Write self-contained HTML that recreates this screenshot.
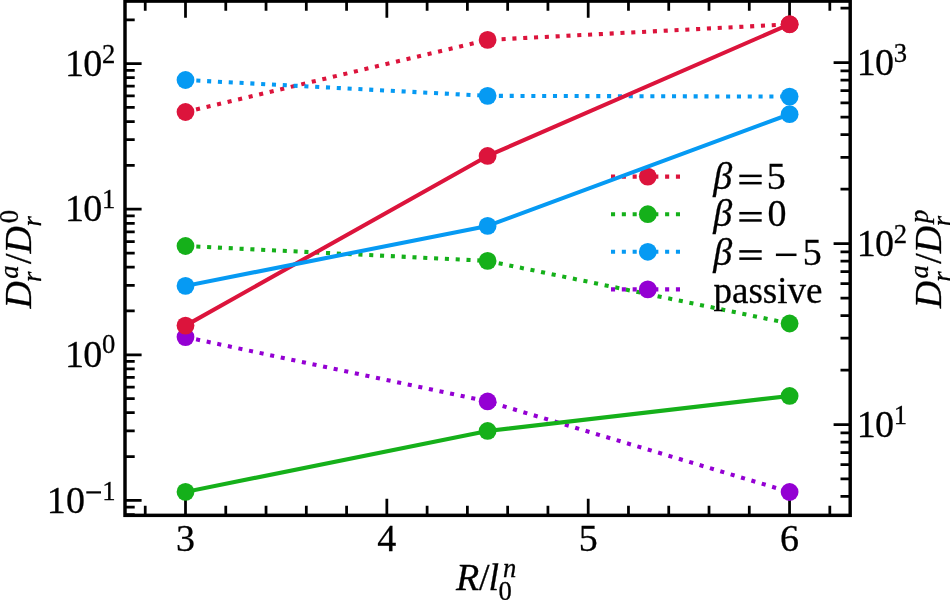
<!DOCTYPE html><html><head><meta charset="utf-8"><style>html,body{margin:0;padding:0;background:#fff;width:950px;height:600px;overflow:hidden}svg{display:block;will-change:transform}text{font-family:"Liberation Serif",serif;fill:#000;stroke:#000;stroke-width:0.3px}.i{font-style:italic}</style></head><body>
<svg width="950" height="600" viewBox="0 0 950 600">
<rect width="950" height="600" fill="#fff"/>
<defs><clipPath id="c"><rect x="125" y="1.1" width="725.2" height="514.25"/></clipPath></defs>
<path d="M185.5 515.35V498.75M185.5 1.1V17.7M386.85 515.35V498.75M386.85 1.1V17.7M588.2 515.35V498.75M588.2 1.1V17.7M789.55 515.35V498.75M789.55 1.1V17.7M125 500.4H141.6M125 354.8H141.6M125 209.2H141.6M125 63.6H141.6M850.2 424.5H833.6M850.2 243.6H833.6M850.2 62.7H833.6M145.23 515.35V505.65M145.23 1.1V10.8M225.77 515.35V505.65M225.77 1.1V10.8M266.04 515.35V505.65M266.04 1.1V10.8M306.31 515.35V505.65M306.31 1.1V10.8M346.58 515.35V505.65M346.58 1.1V10.8M427.12 515.35V505.65M427.12 1.1V10.8M467.39 515.35V505.65M467.39 1.1V10.8M507.66 515.35V505.65M507.66 1.1V10.8M547.93 515.35V505.65M547.93 1.1V10.8M628.47 515.35V505.65M628.47 1.1V10.8M668.74 515.35V505.65M668.74 1.1V10.8M709.01 515.35V505.65M709.01 1.1V10.8M749.28 515.35V505.65M749.28 1.1V10.8M829.82 515.35V505.65M829.82 1.1V10.8M125 514.51H134.7M125 507.06H134.7M125 456.57H134.7M125 430.93H134.7M125 412.74H134.7M125 398.63H134.7M125 387.1H134.7M125 377.35H134.7M125 368.91H134.7M125 361.46H134.7M125 310.97H134.7M125 285.33H134.7M125 267.14H134.7M125 253.03H134.7M125 241.5H134.7M125 231.75H134.7M125 223.31H134.7M125 215.86H134.7M125 165.37H134.7M125 139.73H134.7M125 121.54H134.7M125 107.43H134.7M125 95.9H134.7M125 86.15H134.7M125 77.71H134.7M125 70.26H134.7M125 19.77H134.7M850.2 496.49H840.5M850.2 478.96H840.5M850.2 464.63H840.5M850.2 452.52H840.5M850.2 442.03H840.5M850.2 432.78H840.5M850.2 370.04H840.5M850.2 338.19H840.5M850.2 315.59H840.5M850.2 298.06H840.5M850.2 283.73H840.5M850.2 271.62H840.5M850.2 261.13H840.5M850.2 251.88H840.5M850.2 189.14H840.5M850.2 157.29H840.5M850.2 134.69H840.5M850.2 117.16H840.5M850.2 102.83H840.5M850.2 90.72H840.5M850.2 80.23H840.5M850.2 70.98H840.5M850.2 8.24H840.5" stroke="#000" stroke-width="2.75" fill="none"/>
<g clip-path="url(#c)">
<polyline points="185.5,112 487.6,39.9 789.6,24.3" fill="none" stroke="#dc143c" stroke-width="4.08" stroke-dasharray="4.08 6.74"/>
<polyline points="185.5,246 487.6,260.9 789.6,323.5" fill="none" stroke="#15b01a" stroke-width="4.08" stroke-dasharray="4.08 6.74"/>
<polyline points="185.5,80 487.6,95.85 789.6,96.6" fill="none" stroke="#069af3" stroke-width="4.08" stroke-dasharray="4.08 6.74"/>
<polyline points="185.5,337.1 487.6,401.45 789.6,492" fill="none" stroke="#9400d3" stroke-width="4.08" stroke-dasharray="4.08 6.74"/>
<circle cx="185.5" cy="112" r="8.9" fill="#dc143c"/>
<circle cx="487.6" cy="39.9" r="8.9" fill="#dc143c"/>
<circle cx="789.6" cy="24.3" r="8.9" fill="#dc143c"/>
<circle cx="185.5" cy="246" r="8.9" fill="#15b01a"/>
<circle cx="487.6" cy="260.9" r="8.9" fill="#15b01a"/>
<circle cx="789.6" cy="323.5" r="8.9" fill="#15b01a"/>
<circle cx="185.5" cy="80" r="8.9" fill="#069af3"/>
<circle cx="487.6" cy="95.85" r="8.9" fill="#069af3"/>
<circle cx="789.6" cy="96.6" r="8.9" fill="#069af3"/>
<circle cx="185.5" cy="337.1" r="8.9" fill="#9400d3"/>
<circle cx="487.6" cy="401.45" r="8.9" fill="#9400d3"/>
<circle cx="789.6" cy="492" r="8.9" fill="#9400d3"/>
</g>
<line x1="611" y1="176.6" x2="684.6" y2="176.6" stroke="#dc143c" stroke-width="4.08" stroke-dasharray="4.08 6.74"/>
<circle cx="647.8" cy="176.6" r="8.9" fill="#dc143c"/>
<line x1="611" y1="214.2" x2="684.6" y2="214.2" stroke="#15b01a" stroke-width="4.08" stroke-dasharray="4.08 6.74"/>
<circle cx="647.8" cy="214.2" r="8.9" fill="#15b01a"/>
<line x1="611" y1="251.8" x2="684.6" y2="251.8" stroke="#069af3" stroke-width="4.08" stroke-dasharray="4.08 6.74"/>
<circle cx="647.8" cy="251.8" r="8.9" fill="#069af3"/>
<line x1="611" y1="289.4" x2="684.6" y2="289.4" stroke="#9400d3" stroke-width="4.08" stroke-dasharray="4.08 6.74"/>
<circle cx="647.8" cy="289.4" r="8.9" fill="#9400d3"/>
<text x="713.31" y="189" font-size="38" class="i">β</text>
<rect x="739.3" y="174.65" width="22.4" height="2.5"/>
<rect x="739.3" y="181.9" width="22.4" height="2.5"/>
<text x="766.79" y="189" font-size="38">5</text>
<text x="713.31" y="226.3" font-size="38" class="i">β</text>
<rect x="739.3" y="211.95" width="22.4" height="2.5"/>
<rect x="739.3" y="219.2" width="22.4" height="2.5"/>
<text x="767.55" y="226.3" font-size="38">0</text>
<text x="713.31" y="264.5" font-size="38" class="i">β</text>
<rect x="739.3" y="250.15" width="22.4" height="2.5"/>
<rect x="739.3" y="257.4" width="22.4" height="2.5"/>
<rect x="775.9" y="253.55" width="20.6" height="2.5"/>
<text x="802.79" y="264.5" font-size="38">5</text>
<text x="713.5" y="302.9" font-size="38" textLength="109" lengthAdjust="spacingAndGlyphs">passive</text>
<g clip-path="url(#c)">
<polyline points="185.5,325.6 487.6,155.95 789.6,24.2" fill="none" stroke="#dc143c" stroke-width="4.08" stroke-linejoin="round" stroke-linecap="square"/>
<circle cx="185.5" cy="325.6" r="8.9" fill="#dc143c"/>
<circle cx="487.6" cy="155.95" r="8.9" fill="#dc143c"/>
<circle cx="789.6" cy="24.2" r="8.9" fill="#dc143c"/>
<polyline points="185.5,285.9 487.6,225.9 789.6,114.2" fill="none" stroke="#069af3" stroke-width="4.08" stroke-linejoin="round" stroke-linecap="square"/>
<circle cx="185.5" cy="285.9" r="8.9" fill="#069af3"/>
<circle cx="487.6" cy="225.9" r="8.9" fill="#069af3"/>
<circle cx="789.6" cy="114.2" r="8.9" fill="#069af3"/>
<polyline points="185.5,491.9 487.6,430.95 789.6,395.95" fill="none" stroke="#15b01a" stroke-width="4.08" stroke-linejoin="round" stroke-linecap="square"/>
<circle cx="185.5" cy="491.9" r="8.9" fill="#15b01a"/>
<circle cx="487.6" cy="430.95" r="8.9" fill="#15b01a"/>
<circle cx="789.6" cy="395.95" r="8.9" fill="#15b01a"/>
</g>
<rect x="125" y="1.1" width="725.2" height="514.25" fill="none" stroke="#000" stroke-width="3.45" stroke-linejoin="miter"/>
<text x="64.97" y="75.8" font-size="38">1</text>
<text x="83.2" y="75.8" font-size="38">0</text>
<text x="101.9" y="62.5" font-size="26.6">2</text>
<text x="64.97" y="220.8" font-size="38">1</text>
<text x="83.2" y="220.8" font-size="38">0</text>
<text x="101.9" y="207.9" font-size="26.6">1</text>
<text x="64.97" y="366.5" font-size="38">1</text>
<text x="83.2" y="366.5" font-size="38">0</text>
<text x="101.9" y="353.4" font-size="26.6">0</text>
<text x="46.87" y="512.7" font-size="38">1</text>
<text x="65.9" y="512.7" font-size="38">0</text>
<rect x="86.3" y="491.3" width="14.7" height="2.2"/>
<text x="102.36" y="499.6" font-size="26.6">1</text>
<text x="856.77" y="74.6" font-size="38">1</text>
<text x="875" y="74.6" font-size="38">0</text>
<text x="893.8" y="61.5" font-size="26.6">3</text>
<text x="856.77" y="255.7" font-size="38">1</text>
<text x="875" y="255.7" font-size="38">0</text>
<text x="893.8" y="242.5" font-size="26.6">2</text>
<text x="856.77" y="436.6" font-size="38">1</text>
<text x="875" y="436.6" font-size="38">0</text>
<text x="893.8" y="423.7" font-size="26.6">1</text>
<text x="185.5" y="551.3" font-size="38" text-anchor="middle">3</text>
<text x="386.85" y="551.3" font-size="38" text-anchor="middle">4</text>
<text x="588.2" y="551.3" font-size="38" text-anchor="middle">5</text>
<text x="789.55" y="551.3" font-size="38" text-anchor="middle">6</text>
<text x="456.1" y="589.9" font-size="38" class="i">R</text>
<text x="478.9" y="589.9" font-size="38">/</text>
<text x="488.48" y="589.9" font-size="38" class="i">l</text>
<text x="498.49" y="600.1" font-size="26.6">0</text>
<text x="502.95" y="576.8" font-size="26.6" class="i">n</text>
<g transform="translate(30.5,309) rotate(-90)"><text x="0.43" y="0" font-size="38" class="i">D</text><text x="30.21" y="-12.2" font-size="26.6" class="i">a</text><text x="26.92" y="10" font-size="26.6" class="i">r</text><text x="45" y="0" font-size="38">/</text><text x="55.43" y="0" font-size="38" class="i">D</text><text x="85.7" y="-12.3" font-size="26.6">0</text><text x="82.42" y="10" font-size="26.6" class="i">r</text></g>
<g transform="translate(940.5,308.7) rotate(-90)"><text x="0.43" y="0" font-size="38" class="i">D</text><text x="30.21" y="-12.2" font-size="26.6" class="i">a</text><text x="26.92" y="10" font-size="26.6" class="i">r</text><text x="45" y="0" font-size="38">/</text><text x="55.43" y="0" font-size="38" class="i">D</text><text x="85.7" y="-12.3" font-size="26.6" class="i">p</text><text x="82.42" y="10" font-size="26.6" class="i">r</text></g>
</svg></body></html>
